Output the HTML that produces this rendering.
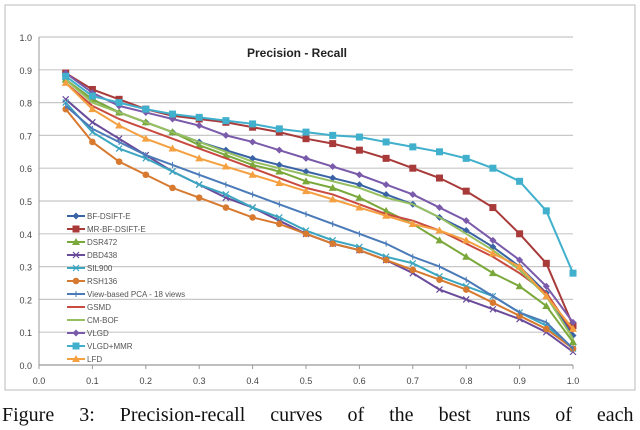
<!DOCTYPE html>
<html><head><meta charset="utf-8"><style>
html,body{margin:0;padding:0;background:#fff;width:640px;height:430px;overflow:hidden}
svg{position:absolute;left:0;top:0}
.cap{position:absolute;left:2px;top:404px;font:20px "Liberation Serif",serif;white-space:nowrap;word-spacing:20px;color:#111}
</style></head><body>
<svg width="640" height="400" id="c"></svg>
<div class="cap">Figure 3: Precision-recall curves of the best runs of each</div>
<script>
const recall=[0.05,0.1,0.15,0.2,0.25,0.3,0.35,0.4,0.45,0.5,0.55,0.6,0.65,0.7,0.75,0.8,0.85,0.9,0.95,1.0];
const names=["BF-DSIFT-E","MR-BF-DSIFT-E","DSR472","DBD438","SIL900","RSH136","View-based PCA - 18 views","GSMD","CM-BOF","VLGD","VLGD+MMR","LFD"];
const colors=["#3a63a6","#a83a3a","#7aa83a","#6a4a9a","#3aa6c0","#d77a30","#4a7ab8","#c84a40","#96c060","#7a5aaa","#40b0cc","#f4a040"];
const markers=["diamond","square","triangle","x","x","circle","dash","none","none","diamond","square","triangle"];
const bf=[.87,.81,.77,.74,.71,.68,.655,.63,.61,.59,.57,.55,.52,.49,.45,.41,.36,.30,.22,.09];
const mrbf=[.89,.84,.81,.78,.76,.75,.74,.725,.71,.69,.675,.655,.63,.60,.57,.53,.48,.40,.31,.12];
const dsr=[.87,.81,.77,.74,.71,.67,.64,.61,.59,.56,.54,.51,.47,.43,.38,.33,.28,.24,.18,.07];
const dbd=[.81,.74,.69,.64,.59,.55,.51,.48,.44,.40,.37,.35,.32,.28,.23,.20,.17,.14,.10,.04];
const sil=[.80,.71,.66,.63,.59,.55,.52,.48,.45,.41,.38,.36,.33,.31,.27,.24,.21,.16,.12,.05];
const rsh=[.78,.68,.62,.58,.54,.51,.48,.45,.43,.40,.37,.35,.32,.29,.26,.23,.19,.15,.11,.05];
const pca=[.79,.72,.68,.64,.61,.58,.55,.52,.49,.46,.43,.40,.37,.33,.30,.26,.21,.16,.13,.05];
const gsmd=[.86,.79,.75,.72,.69,.66,.63,.60,.57,.54,.52,.49,.46,.44,.41,.37,.33,.28,.22,.10];
const cmbof=[.87,.80,.77,.74,.71,.68,.65,.62,.60,.58,.56,.54,.51,.49,.45,.40,.35,.29,.21,.08];
const vlgd=[.89,.83,.79,.77,.75,.73,.70,.68,.655,.63,.605,.58,.55,.52,.48,.44,.38,.32,.24,.13];
const vlgdm=[.88,.82,.80,.78,.765,.755,.745,.735,.72,.71,.70,.695,.68,.665,.65,.63,.60,.56,.47,.28];
const lfd=[.86,.78,.73,.69,.66,.63,.605,.58,.555,.53,.505,.48,.455,.43,.41,.38,.34,.30,.21,.11];
const series=[bf,mrbf,dsr,dbd,sil,rsh,pca,gsmd,cmbof,vlgd,vlgdm,lfd];
const yTicks=[0,0.1,0.2,0.3,0.4,0.5,0.6,0.7,0.8,0.9,1.0];
const xTicks=[0,0.1,0.2,0.3,0.4,0.5,0.6,0.7,0.8,0.9,1.0];
const X=v=>39+534*v, Y=v=>365-328*v;
const NS="http://www.w3.org/2000/svg", svg=document.getElementById('c');
function mk(t,a,p){const e=document.createElementNS(NS,t);for(const k in a)e.setAttribute(k,a[k]);(p||svg).appendChild(e);return e;}
mk('rect',{x:5,y:5,width:630,height:385,fill:'#fff',stroke:'#bbb'});
yTicks.forEach(v=>{
const l=mk('line',{x1:X(0),x2:X(1),y1:Y(v),y2:Y(v),stroke:v===0?'#999':'#c8c8c8','stroke-width':1.2});

const t=mk('text',{x:32,y:Y(v)+4,'text-anchor':'end','font-size':9,'font-family':'Liberation Sans,sans-serif',fill:'#444'});t.textContent=v.toFixed(1);
});
mk('line',{x1:X(0),x2:X(0),y1:Y(0),y2:Y(1),stroke:'#999'});
xTicks.forEach(v=>{
mk('line',{x1:X(v),x2:X(v),y1:Y(0),y2:Y(0)+4,stroke:'#999'});
const t=mk('text',{x:X(v),y:384,'text-anchor':'middle','font-size':9,'font-family':'Liberation Sans,sans-serif',fill:'#444'});t.textContent=v.toFixed(1);
});
const title=mk('text',{x:297,y:57,'text-anchor':'middle','font-size':12,'font-weight':'bold','font-family':'Liberation Sans,sans-serif',fill:'#222'});title.textContent='Precision - Recall';

function marker(m,x,y,c,g){
if(m==='diamond')mk('path',{d:`M${x} ${y-3.5}L${x+3.5} ${y}L${x} ${y+3.5}L${x-3.5} ${y}Z`,fill:c},g);
else if(m==='square')mk('rect',{x:x-3.5,y:y-3.5,width:7,height:7,fill:c},g);
else if(m==='triangle')mk('path',{d:`M${x} ${y-4}L${x+4} ${y+3}L${x-4} ${y+3}Z`,fill:c},g);
else if(m==='circle')mk('circle',{cx:x,cy:y,r:3.3,fill:c},g);
else if(m==='x')mk('path',{d:`M${x-3} ${y-3}L${x+3} ${y+3}M${x+3} ${y-3}L${x-3} ${y+3}`,stroke:c,'stroke-width':1.2},g);
else if(m==='dash')mk('path',{d:`M${x} ${y-3}L${x} ${y+3}`,stroke:c,'stroke-width':1},g);}
series.forEach((s,i)=>{
const g=mk('g',{});
mk('polyline',{points:s.map((v,j)=>X(recall[j])+','+Y(v)).join(' '),fill:'none',stroke:colors[i],'stroke-width':2},g);
s.forEach((v,j)=>marker(markers[i],X(recall[j]),Y(v),colors[i],g));});
names.forEach((n,i)=>{
const y=216+13*i;const g=mk('g',{});
mk('line',{x1:67,x2:85,y1:y,y2:y,stroke:colors[i],'stroke-width':2},g);marker(markers[i],76,y,colors[i],g);
const t=mk('text',{x:87,y:y+3,'font-size':8,'font-family':'Liberation Sans,sans-serif',fill:'#555'},g);t.textContent=n;});
</script>
</body></html>
